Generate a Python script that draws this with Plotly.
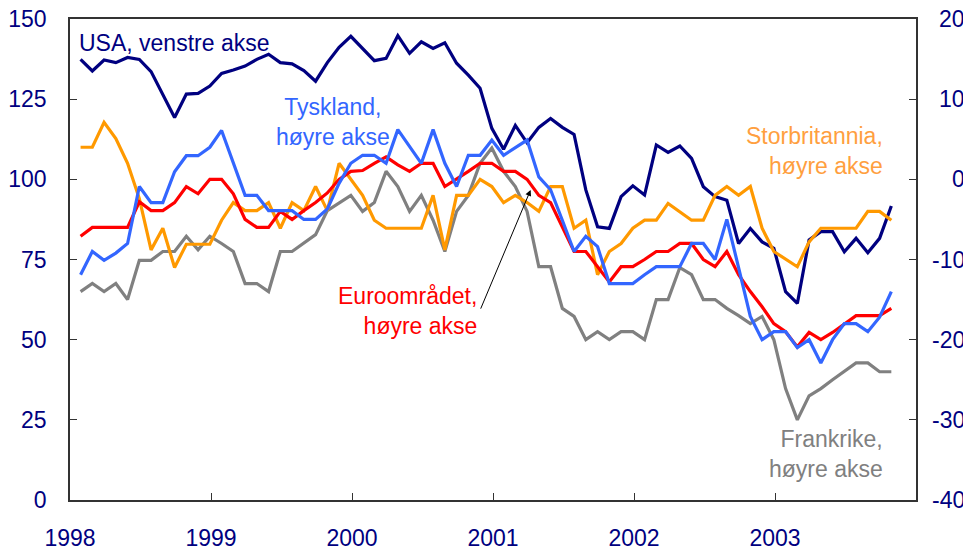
import plotly.graph_objects as go

# Monthly observations, Jan 1998 - Oct 2003 (index 0..69)
months = [i + 0.9 for i in range(70)]
year_ticks = [0, 12, 24, 36, 48, 60]
year_labels = ["1998", "1999", "2000", "2001", "2002", "2003"]
left_ticks = [0, 25, 50, 75, 100, 125, 150]
right_ticks = [-40, -30, -20, -10, 0, 10, 20]
right_labels = ["-40", "-30", "-20", "-10", "0", "10", "20"]

usa = [137.4, 133.8, 137.2, 136.4, 138.0, 137.4, 133.6, 126.6, 119.3, 126.6,
       126.8, 129.1, 133.0, 134.1, 135.3, 137.4, 139.0, 136.4, 136.0, 133.9,
       130.6, 136.4, 141.2, 144.6, 140.8, 137.0, 137.7, 144.8, 139.3, 142.9,
       140.8, 142.6, 136.2, 132.5, 128.4, 115.9, 109.4, 116.8, 111.4, 116.2,
       119.0, 116.2, 114.0, 96.7, 85.2, 84.7, 94.6, 98.0, 95.1, 110.7,
       108.4, 110.4, 106.5, 97.7, 94.6, 93.5, 80.0, 84.7, 80.5, 78.5,
       65.0, 61.3, 81.1, 83.7, 83.7, 77.4, 81.6, 77.1, 81.6, 91.7]

tyskland = [-11.9, -9.0, -10.1, -9.2, -8.0, -0.9, -2.9, -2.9, 0.95, 2.95,
            2.95, 4.0, 6.1, 2.0, -2.0, -2.0, -3.9, -3.9, -3.9, -5.0,
            -5.0, -3.7, -0.5, 2.0, 3.0, 3.0, 2.0, 6.2, 4.1, 2.0,
            6.2, 2.0, -0.9, 3.0, 3.0, 4.9, 3.0, 3.9, 4.9, 0.3,
            -1.3, -5.1, -9.0, -7.1, -8.4, -13.0, -13.0, -13.0, -11.9, -10.9,
            -10.9, -10.9, -8.0, -8.0, -10.0, -5.0, -11.0, -17.1, -20.0, -19.0,
            -19.0, -21.0, -20.0, -22.9, -20.0, -18.0, -18.0, -19.0, -17.2, -14.0]

euro = [-7.1, -6.0, -6.0, -6.0, -6.0, -2.8, -3.9, -3.9, -2.9, -0.9,
        -1.8, 0.0, 0.0, -1.8, -5.0, -6.0, -6.0, -4.0, -5.0, -3.9,
        -2.9, -1.7, 0.0, 1.0, 1.1, 2.0, 2.8, 1.8, 1.0, 2.0,
        2.0, -0.9, 0.0, 1.0, 2.0, 2.0, 1.0, 1.0, 0.0, -2.0,
        -2.9, -5.9, -9.0, -9.0, -10.9, -12.8, -10.9, -10.9, -10.0, -9.0,
        -9.0, -8.0, -8.0, -10.0, -10.9, -9.0, -11.9, -14.0, -15.9, -18.0,
        -19.0, -20.9, -19.1, -20.0, -19.1, -18.0, -17.0, -17.0, -17.0, -16.1]

storbritannia = [4.0, 4.0, 7.1, 5.1, 2.0, -2.4, -8.8, -6.1, -11.0, -8.1,
                 -8.1, -8.1, -5.1, -2.9, -3.9, -3.9, -2.9, -6.1, -2.9, -3.9,
                 -0.9, -3.9, 2.0, 0.0, -2.0, -5.1, -6.1, -6.1, -6.1, -6.1,
                 -2.0, -8.8, -2.0, -2.0, 0.0, -0.9, -2.9, -2.0, -2.9, -4.0,
                 -0.9, -0.9, -6.1, -5.1, -11.9, -9.0, -8.0, -6.1, -5.1, -5.1,
                 -3.0, -4.0, -5.1, -5.1, -2.0, -0.9, -2.0, -0.9, -6.1, -9.0,
                 -10.0, -10.9, -7.8, -6.1, -6.1, -6.1, -6.1, -4.0, -4.0, -5.1]

frankrike = [-14.0, -13.0, -14.0, -13.0, -15.0, -10.1, -10.1, -9.0, -9.0, -7.1,
             -8.8, -7.1, -8.0, -9.0, -13.0, -13.0, -14.0, -9.0, -9.0, -8.0,
             -6.9, -3.9, -2.9, -2.0, -4.0, -2.9, 1.0, -0.9, -4.0, -2.0,
             -5.1, -9.0, -4.0, -2.0, 2.0, 3.9, 1.0, -0.9, -4.0, -10.9,
             -10.9, -16.1, -17.1, -20.0, -19.0, -20.0, -19.0, -19.0, -20.0, -15.0,
             -15.0, -11.0, -11.9, -15.0, -15.0, -16.1, -17.0, -18.0, -17.1, -20.0,
             -26.1, -30.0, -27.0, -26.1, -25.0, -24.0, -22.9, -22.9, -24.0, -24.0]

NAVY = "#000080"
FONT = "Arial, Liberation Sans, sans-serif"
LW = 3.2
TICKSIZE = 23
LABELSIZE = 23

fig = go.Figure()
fig.add_trace(go.Scatter(x=months, y=frankrike, yaxis="y2", mode="lines",
                         line=dict(color="#808080", width=LW), name="Frankrike"))
fig.add_trace(go.Scatter(x=months, y=storbritannia, yaxis="y2", mode="lines",
                         line=dict(color="#FF9900", width=LW), name="Storbritannia"))
fig.add_trace(go.Scatter(x=months, y=euro, yaxis="y2", mode="lines",
                         line=dict(color="#FF0000", width=LW), name="Euroområdet"))
fig.add_trace(go.Scatter(x=months, y=tyskland, yaxis="y2", mode="lines",
                         line=dict(color="#3366FF", width=LW), name="Tyskland"))
fig.add_trace(go.Scatter(x=months, y=usa, yaxis="y", mode="lines",
                         line=dict(color=NAVY, width=LW), name="USA"))

axis_common = dict(showgrid=False, zeroline=False, showline=True, automargin=False,
                   linecolor="#333333", linewidth=1.5, ticks="inside",
                   ticklen=7, tickcolor="#333333", ticklabeloverflow="allow",
                   tickfont=dict(family=FONT, size=TICKSIZE, color=NAVY))

# the page body has an 8px margin, so the figure is sized to fit the window
fig.update_layout(
    width=963, height=542,
    margin=dict(l=62, r=55, t=11, b=50),
    paper_bgcolor="white", plot_bgcolor="white",
    showlegend=False,
    font=dict(family=FONT),
    xaxis=dict(range=[0, 72], tickvals=year_ticks, ticktext=year_labels,
               mirror=True, ticklabelstandoff=17, **axis_common),
    yaxis=dict(range=[0, 150], tickvals=left_ticks,
               ticklabelstandoff=17, **axis_common),
    yaxis2=dict(range=[-40, 20], tickvals=right_ticks, showticklabels=False,
                overlaying="y", side="right", **axis_common),
)

# right-axis tick labels, right-aligned as in the original
for v, t in zip(right_ticks, right_labels):
    fig.add_annotation(x=1, y=v, xref="paper", yref="y2", text=t, showarrow=False,
                       xanchor="right", yanchor="middle", xshift=51,
                       font=dict(family=FONT, size=TICKSIZE, color=NAVY))

def label(text, x, y, color, xanchor, align):
    fig.add_annotation(x=x, y=y, xref="x", yref="y", text=text, showarrow=False,
                       xanchor=xanchor, yanchor="middle", align=align,
                       font=dict(family=FONT, size=LABELSIZE, color=color))

label("USA, venstre akse", 0.6, 142.5, NAVY, "left", "left")
label("Tyskland,<br>høyre akse", 22.4, 118.0, "#3366FF", "center", "center")
label("Storbritannia,<br>høyre akse", 69.4, 108.7, "#FF9F3F", "right", "right")
label("Euroområdet,<br>høyre akse", 34.8, 58.8, "#FF0000", "right", "right")
label("Frankrike,<br>høyre akse", 69.4, 14.5, "#808080", "right", "right")

# arrow pointing to the euro-area line
fig.add_annotation(x=39.2, y=96.7, xref="x", yref="y",
                   ax=34.9, ay=59.2, axref="x", ayref="y",
                   text="", showarrow=True, arrowhead=2, arrowsize=1.2,
                   arrowwidth=1, arrowcolor="black")

fig.write_html("out.html")
